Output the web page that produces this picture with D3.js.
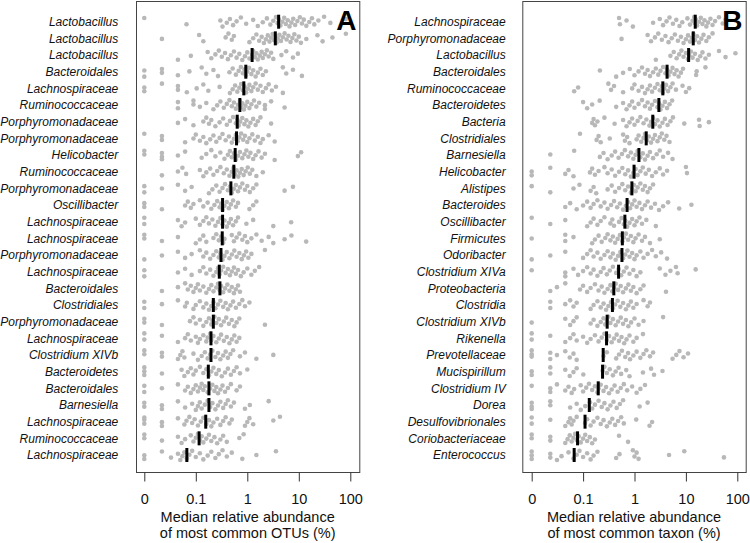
<!DOCTYPE html>
<html><head><meta charset="utf-8">
<script src="https://cdn.jsdelivr.net/npm/d3@7"></script>
<style>body{margin:0;background:#fff} svg{display:block}</style>
</head><body><svg id="c" width="750" height="543"></svg>
<script>
const tickValues = [0, 0.1, 1, 10, 100];
const tickLabels = ["0", "0.1", "1", "10", "100"];

const labelsA = ["Lactobacillus","Lactobacillus","Lactobacillus","Bacteroidales","Lachnospiraceae","Ruminococcaceae","Porphyromonadaceae","Porphyromonadaceae","Helicobacter","Ruminococcaceae","Porphyromonadaceae","Oscillibacter","Lachnospiraceae","Lachnospiraceae","Porphyromonadaceae","Lachnospiraceae","Bacteroidales","Clostridiales","Porphyromonadaceae","Lachnospiraceae","Clostridium XIVb","Bacteroidetes","Bacteroidales","Barnesiella","Lachnospiraceae","Ruminococcaceae","Lachnospiraceae"];
const mediansA = [4.06,3.5,1.24,0.936,0.856,0.717,0.637,0.618,0.582,0.548,0.48,0.331,0.331,0.326,0.308,0.286,0.294,0.219,0.219,0.197,0.197,0.175,0.18,0.18,0.156,0.116,0.067];
const valuesA = [
 [0,0.066,0.30,0.33,0.40,0.46,0.53,0.62,0.75,0.95,1.3,1.6,2.0,2.4,2.8,3.2,3.6,3.9,4.1,4.4,4.8,5.2,5.6,6.1,6.6,7.2,7.8,8.5,9.4,10.5,11.5,12.5,14,16,18,20,24,31,41,82],
 [0.022,0.116,0.14,0.38,0.43,0.50,0.55,1.1,1.3,1.5,1.7,1.9,2.1,2.3,2.5,2.7,2.9,3.1,3.3,3.5,3.7,3.9,4.2,4.5,4.9,5.3,5.8,6.3,6.9,7.5,8.2,9.0,10,11,14,23,29,45,82],
 [0.045,0.08,0.17,0.2,0.24,0.28,0.32,0.37,0.42,0.48,0.55,0.62,0.7,0.8,0.9,1.0,1.1,1.24,1.3,1.4,1.5,1.6,1.75,1.9,2.0,2.2,2.4,2.6,2.9,3.2,4.6,5.7,7.7,9.6],
 [0,0,0.022,0.022,0.045,0.075,0.13,0.16,0.22,0.27,0.45,0.52,0.6,0.68,0.75,0.82,0.88,0.94,1.0,1.08,1.2,1.3,1.45,1.6,1.8,2.0,2.3,4.9,5.7,7.7,11.5],
 [0,0,0.022,0.045,0.045,0.067,0.104,0.14,0.175,0.29,0.46,0.52,0.58,0.64,0.7,0.76,0.82,0.88,0.95,1.02,1.1,1.2,1.3,1.45,1.6,1.8,2.0,2.3,2.6,3.0,3.6,4.9],
 [0.045,0.045,0.09,0.09,0.12,0.16,0.22,0.26,0.3,0.35,0.4,0.45,0.5,0.55,0.6,0.66,0.72,0.76,0.8,0.86,0.92,1.0,1.1,1.2,1.35,1.5,1.7,2.2,2.2,2.9,5.3],
 [0.045,0.062,0.09,0.14,0.16,0.18,0.2,0.24,0.29,0.34,0.4,0.46,0.53,0.6,0.64,0.68,0.73,0.8,0.88,0.96,1.05,1.15,1.3,1.45,1.6,1.8,2.9],
 [0,0.022,0.022,0.062,0.09,0.1,0.12,0.14,0.16,0.19,0.22,0.25,0.29,0.33,0.38,0.44,0.5,0.55,0.6,0.65,0.7,0.76,0.83,0.9,1.0,1.1,1.25,1.4,1.6,1.8,2.0,2.6,3.4],
 [0,0,0.022,0.022,0.022,0.045,0.062,0.13,0.16,0.2,0.24,0.3,0.36,0.42,0.46,0.5,0.55,0.6,0.66,0.72,0.8,0.88,0.96,1.05,1.15,1.3,1.45,1.65,1.9,2.2,3.4,9.6,11.1],
 [0.022,0.045,0.055,0.065,0.12,0.14,0.16,0.19,0.22,0.26,0.3,0.35,0.4,0.45,0.5,0.54,0.58,0.62,0.67,0.72,0.78,0.85,0.93,1.02,1.12,1.25,1.5,2.0],
 [0,0,0.022,0.045,0.062,0.083,0.18,0.21,0.25,0.29,0.33,0.37,0.42,0.46,0.5,0.55,0.6,0.66,0.72,0.8,0.9,1.0,1.12,1.3,1.5,5.3,7.7],
 [0,0,0.022,0.062,0.07,0.08,0.09,0.12,0.14,0.17,0.2,0.23,0.26,0.29,0.31,0.33,0.36,0.4,0.44,0.48,0.53,0.6,0.66,1.1,1.3,1.5],
 [0,0,0.045,0.053,0.062,0.1,0.12,0.14,0.16,0.18,0.21,0.24,0.27,0.3,0.33,0.36,0.4,0.44,0.48,0.53,0.6,0.66,0.96,1.3,3.2,7.1],
 [0,0,0.022,0.045,0.1,0.12,0.14,0.16,0.22,0.25,0.28,0.31,0.34,0.36,0.5,0.55,0.62,0.7,0.8,0.9,1.0,1.2,1.5,1.9,2.6,3.2,5.3,7.2,13.9],
 [0,0.022,0.045,0.062,0.083,0.12,0.14,0.16,0.19,0.22,0.25,0.28,0.3,0.33,0.36,0.4,0.45,0.5,0.56,0.62,0.7,0.78,0.86,0.95,1.05,1.2,2.2],
 [0,0,0.045,0.062,0.083,0.12,0.14,0.16,0.19,0.22,0.25,0.27,0.29,0.31,0.34,0.38,0.42,0.46,0.5,0.55,0.6,0.66,0.75,0.85,1.0,1.2,1.4,1.7],
 [0.022,0.045,0.062,0.07,0.08,0.09,0.1,0.11,0.12,0.14,0.16,0.18,0.2,0.22,0.25,0.27,0.29,0.31,0.34,0.37,0.41,0.45,0.5,0.55,0.6,0.66,0.72],
 [0,0,0.022,0.045,0.062,0.067,0.09,0.1,0.12,0.14,0.16,0.18,0.2,0.22,0.24,0.27,0.3,0.34,0.38,0.42,0.47,0.53,0.6,0.7,0.8,0.9,1.1],
 [0,0,0.022,0.077,0.09,0.1,0.12,0.14,0.16,0.18,0.2,0.21,0.23,0.25,0.28,0.31,0.35,0.39,0.44,0.5,0.56,0.62,0.7,2.2],
 [0,0,0.022,0.045,0.062,0.07,0.08,0.1,0.11,0.12,0.14,0.16,0.17,0.19,0.2,0.22,0.25,0.28,0.31,0.35,0.4,0.45,0.5,0.56,0.62,0.7],
 [0,0,0.022,0.022,0.045,0.05,0.055,0.06,0.09,0.11,0.13,0.15,0.17,0.19,0.21,0.24,0.27,0.3,0.34,0.38,0.42,0.47,0.53,0.72,0.9,1.5,3.2],
 [0,0,0,0.022,0.053,0.06,0.07,0.08,0.09,0.1,0.12,0.14,0.16,0.18,0.2,0.22,0.25,0.28,0.32,0.37,0.42,0.48,0.55,0.62,0.72,1.0],
 [0,0,0.022,0.045,0.062,0.07,0.08,0.09,0.1,0.11,0.12,0.13,0.14,0.15,0.17,0.19,0.21,0.23,0.25,0.27,0.3,0.33,0.37,0.42,0.48,0.62,0.72],
 [0,0,0.022,0.022,0.045,0.062,0.085,0.1,0.11,0.12,0.13,0.15,0.17,0.19,0.21,0.24,0.27,0.3,0.34,0.38,0.42,0.48,0.55,0.9,1.12,2.6],
 [0,0,0,0.022,0.022,0.045,0.06,0.066,0.075,0.085,0.095,0.11,0.125,0.14,0.16,0.18,0.2,0.22,0.26,0.3,0.34,0.38,0.45,0.5,0.9,1.0,1.1,1.3,3.2,4.3],
 [0,0,0.022,0.045,0.053,0.062,0.08,0.09,0.1,0.11,0.12,0.13,0.14,0.16,0.18,0.2,0.23,0.26,0.3,0.34,0.4,0.7,0.85],
 [0,0,0.022,0.033,0.045,0.05,0.055,0.06,0.067,0.075,0.085,0.1,0.12,0.14,0.17,0.2,0.24,0.28,0.33,0.4,0.5,0.8,1.5,3.6]
];

const labelsB = ["Lachnospiraceae","Porphyromonadaceae","Lactobacillus","Bacteroidales","Ruminococcaceae","Bacteroidetes","Bacteria","Clostridiales","Barnesiella","Helicobacter","Alistipes","Bacteroides","Oscillibacter","Firmicutes","Odoribacter","Clostridium XIVa","Proteobacteria","Clostridia","Clostridium XIVb","Rikenella","Prevotellaceae","Mucispirillum","Clostridium IV","Dorea","Desulfovibrionales","Coriobacteriaceae","Enterococcus"];
const mediansB = [15.2,13.9,11.3,4.3,3.56,2.98,2.27,1.69,1.22,0.98,0.89,0.717,0.65,0.58,0.57,0.49,0.396,0.372,0.294,0.286,0.246,0.239,0.197,0.132,0.109,0.078,0.067];
const valuesB = [
 [0.5,0.52,0.7,0.93,2.3,3.1,3.6,4.2,4.8,5.6,6.5,7.5,8.5,10.7,12,13.5,14.5,15,15.5,16.5,18,19.5,21,23,25,27,30,33,37,44,52,59],
 [0.56,1.8,2.1,2.5,2.9,3.4,4.0,4.6,5.3,6.1,7,8,9,10,11,12,13,14,15,16.5,18,20,22,25,28,33],
 [2.6,5.0,5.8,6.6,7.4,8.2,9,10,11,11.6,12.5,13.5,15,17,19,21,24,28,44,59,92],
 [0.212,0.44,0.6,0.81,1.0,1.2,1.4,1.6,1.8,2.0,2.3,2.6,2.9,3.2,3.6,4.0,4.3,4.6,5.0,5.5,6,6.6,7.2,8,8.8,15.8,16.2,24],
 [0.067,0.08,0.31,0.35,0.4,0.6,0.9,1.0,1.2,1.4,1.6,1.8,2.0,2.2,2.5,2.8,3.1,3.4,3.56,3.8,4.1,4.5,5,5.5,6.4,8.6,10,11.6],
 [0.1,0.12,0.15,0.21,0.44,0.6,0.7,0.8,0.9,1.0,1.2,1.4,1.6,1.8,2.0,2.2,2.5,2.8,3.0,3.2,3.5,3.9,4.3,4.8,5.4],
 [0.15,0.16,0.17,0.19,0.26,0.41,0.6,0.7,0.8,0.9,1.0,1.15,1.3,1.5,1.7,1.95,2.1,2.3,2.5,2.8,3.1,3.5,3.9,4.4,5.0,5.6,9.3,18,18.5,28],
 [0.087,0.183,0.2,0.22,0.33,0.6,0.65,0.72,0.8,1.1,1.2,1.35,1.5,1.6,1.75,1.9,2.1,2.3,2.5,2.8,3.1,3.4,3.8,4.2,4.8],
 [0.023,0.067,0.212,0.25,0.3,0.36,0.42,0.49,0.57,0.65,0.75,0.85,0.95,1.05,1.15,1.3,1.45,1.6,1.8,2.0,2.3,2.7,3.1,3.6,4.5,5.5],
 [0,0,0.023,0.045,0.052,0.065,0.136,0.15,0.17,0.2,0.26,0.3,0.36,0.42,0.5,0.58,0.66,0.75,0.85,0.95,1.05,1.15,1.3,1.45,1.65,1.9,2.2,2.6,3.1,3.6,4.3,10,10.5],
 [0,0.023,0.065,0.085,0.14,0.16,0.18,0.3,0.36,0.42,0.5,0.58,0.66,0.75,0.85,0.9,0.97,1.05,1.15,1.3,1.45,1.6,1.8,2.0,2.3],
 [0.045,0.056,0.075,0.1,0.12,0.14,0.16,0.19,0.22,0.26,0.3,0.35,0.4,0.46,0.52,0.6,0.68,0.75,0.82,0.9,1.0,1.1,1.25,1.4,1.6,1.8,2.1,2.5,3.0,3.6,4.5,7.4,12.8],
 [0,0.023,0.045,0.12,0.14,0.16,0.19,0.22,0.26,0.34,0.37,0.4,0.5,0.56,0.62,0.66,0.72,0.8,0.9,1.0,1.1,1.25,1.4,1.7,2.6],
 [0,0.045,0.045,0.065,0.15,0.17,0.2,0.23,0.27,0.3,0.34,0.38,0.42,0.47,0.52,0.58,0.62,0.68,0.75,0.85,0.95,1.05,1.2,1.4,1.6,2.0,3.1],
 [0,0.023,0.045,0.1,0.12,0.14,0.16,0.19,0.22,0.26,0.3,0.34,0.38,0.43,0.48,0.53,0.6,0.66,0.73,0.8,0.9,1.0,1.1,1.3,1.5,1.8,2.2,2.6,3.3,4.3],
 [0,0.045,0.045,0.065,0.08,0.1,0.12,0.14,0.16,0.19,0.22,0.25,0.29,0.33,0.38,0.44,0.49,0.55,0.62,0.7,0.8,0.95,1.1,1.3,3.1,4.0,5,6.4,6.9,15.5],
 [0.023,0.031,0.045,0.087,0.1,0.12,0.14,0.17,0.2,0.23,0.26,0.3,0.34,0.37,0.4,0.43,0.48,0.54,0.6,0.68,0.76,0.85,0.95,1.1,1.3,1.5,4.1],
 [0.023,0.023,0.045,0.056,0.065,0.075,0.14,0.16,0.19,0.22,0.25,0.28,0.31,0.35,0.38,0.42,0.47,0.53,0.6,0.68,0.76,0.85,0.95,1.1,1.5,1.8,2.0],
 [0,0.045,0.056,0.065,0.075,0.14,0.16,0.19,0.22,0.25,0.27,0.29,0.31,0.34,0.38,0.43,0.48,0.54,0.6,0.68,0.76,0.86,1.0,1.2,1.5,3.6],
 [0,0,0.023,0.045,0.056,0.065,0.075,0.1,0.12,0.14,0.17,0.2,0.23,0.26,0.29,0.32,0.36,0.4,0.45,0.5,0.56,0.63,0.7,0.8,0.95,1.1,1.46],
 [0,0,0,0.023,0.023,0.031,0.045,0.055,0.065,0.075,0.25,0.29,0.44,0.5,0.57,0.66,0.75,0.82,0.95,1.1,1.3,1.5,1.7,2.0,2.3,5.5,6.5,7.5,9,11],
 [0,0,0.023,0.023,0.045,0.055,0.065,0.075,0.101,0.24,0.26,0.29,0.33,0.38,0.43,0.49,0.55,0.69,0.8,1.46,2.1,2.4,3.5],
 [0,0.023,0.023,0.031,0.045,0.052,0.06,0.067,0.09,0.1,0.115,0.13,0.15,0.17,0.19,0.2,0.22,0.25,0.28,0.32,0.36,0.41,0.47,0.54,0.62,0.72,0.9,1.1,1.3,1.6],
 [0,0,0,0.023,0.023,0.056,0.075,0.09,0.11,0.136,0.15,0.17,0.2,0.23,0.26,0.3,0.34,0.39,0.45,0.52,0.6,1.26,1.8],
 [0,0,0.023,0.045,0.052,0.056,0.06,0.065,0.075,0.109,0.12,0.14,0.16,0.19,0.22,0.25,0.29,0.33,0.37,0.42,0.48,0.55,0.62,1.08,1.96,2.2],
 [0,0,0.023,0.023,0.045,0.05,0.055,0.06,0.065,0.07,0.075,0.082,0.09,0.1,0.11,0.12,0.135,0.15,0.17,0.5,0.75],
 [0,0,0,0.023,0.023,0.031,0.038,0.052,0.065,0.075,0.085,0.1,0.12,0.14,0.16,0.19,0.44,0.51,0.93,1.0,1.1,1.2,4.7,9.3,55]
];

const FONT = "'Liberation Sans', Arial, Helvetica, sans-serif";
const svg = d3.select("#c");

// deterministic vertical spread within a row (golden-ratio sequence)
function spread(i, r) {
  const t = (i * 0.6180339887 + r * 0.4142135 + 0.137) % 1;
  return (t - 0.5) * 10;
}

function panel(cfg) {
  const g = svg.append("g");
  const x = d3.scaleLog().domain([0.01, 100]).range(cfg.xr);
  const xv = v => x(v <= 0 ? 0.01 : v);
  const y = d3.scalePoint().domain(d3.range(cfg.labels.length)).range([21.7, 455]);

  cfg.values.forEach((arr, r) => {
    g.append("g").selectAll("circle").data(arr).join("circle")
      .attr("cx", d => xv(d))
      .attr("cy", (d, i) => y(r) + spread(i, r))
      .attr("r", 2.3)
      .attr("fill", "#b8b8b8");
  });
  g.append("g").selectAll("line").data(cfg.medians).join("line")
    .attr("x1", d => xv(d)).attr("x2", d => xv(d))
    .attr("y1", (d, i) => y(i) - 7).attr("y2", (d, i) => y(i) + 7)
    .attr("stroke", "#000").attr("stroke-width", 3);

  g.append("rect")
    .attr("x", cfg.box[0] + 0.5).attr("y", 1.5)
    .attr("width", cfg.box[1] - cfg.box[0]).attr("height", 471)
    .attr("fill", "none").attr("stroke", "#444").attr("stroke-width", 1);

  g.append("g").selectAll("text").data(cfg.labels).join("text")
    .attr("x", cfg.labelX).attr("y", (d, i) => y(i))
    .attr("dy", "0.35em")
    .attr("text-anchor", "end")
    .attr("font-family", FONT).attr("font-size", 12).attr("font-style", "italic")
    .attr("fill", "#111")
    .text(d => d);

  const ax = d3.axisBottom(x)
    .tickValues(tickValues.map(v => v <= 0 ? 0.01 : v))
    .tickFormat((d, i) => tickLabels[i])
    .tickSizeInner(9).tickSizeOuter(0).tickPadding(12.5);
  const axg = g.append("g").attr("transform", "translate(0,472.5)").call(ax);
  axg.select(".domain").remove();
  axg.selectAll(".tick line").attr("stroke", "#333");
  axg.selectAll(".tick text").attr("font-family", FONT).attr("font-size", 14.5).attr("fill", "#111");

  const cx = (cfg.box[0] + cfg.box[1]) / 2;
  cfg.title.forEach((t, i) => {
    g.append("text").attr("x", cx).attr("y", 522 + i * 16)
      .attr("text-anchor", "middle")
      .attr("font-family", FONT).attr("font-size", 14.5).attr("fill", "#111")
      .text(t);
  });

  g.append("text").attr("x", cfg.letterX).attr("y", 30)
    .attr("text-anchor", "end")
    .attr("font-family", FONT).attr("font-size", 28).attr("font-weight", "bold")
    .attr("fill", "#000").text(cfg.letter);
}

panel({labels: labelsA, values: valuesA, medians: mediansA,
  xr: [144.3, 350.3], box: [136, 359.3], labelX: 118.3, letter: "A", letterX: 356.5,
  title: ["Median relative abundance", "of most common OTUs (%)"]});
panel({labels: labelsB, values: valuesB, medians: mediansB,
  xr: [531.7, 737.3], box: [522.3, 745.7], labelX: 505.7, letter: "B", letterX: 742.5,
  title: ["Median relative abundance", "of most common taxon (%)"]});
</script>
</body></html>
